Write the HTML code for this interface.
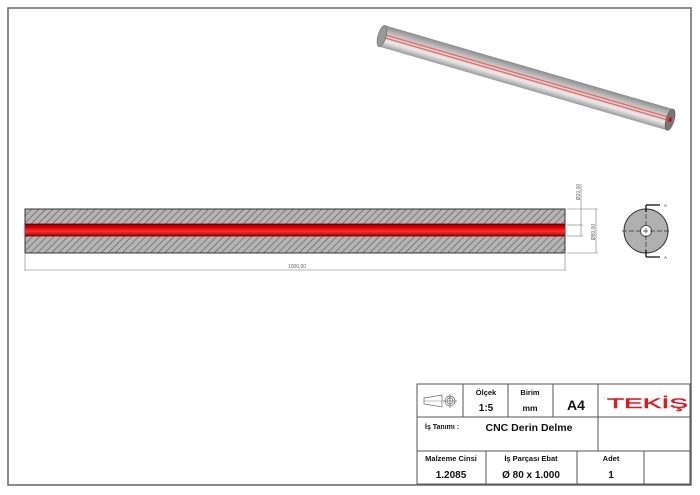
<!DOCTYPE html>
<html><head><meta charset="utf-8"><style>
html,body{margin:0;padding:0;background:#fff;}
svg{display:block;font-family:"Liberation Sans",sans-serif;}
</style></head><body>
<svg width="700" height="495" viewBox="0 0 700 495" xmlns="http://www.w3.org/2000/svg">
<defs>
<pattern id="h" width="5" height="5" patternUnits="userSpaceOnUse" patternTransform="rotate(45)">
<rect width="5" height="5" fill="#b4b4b4"/><line x1="0" y1="0" x2="0" y2="5" stroke="#555" stroke-width="1.2"/>
</pattern>
<linearGradient id="rod" x1="0" y1="0" x2="0" y2="1">
<stop offset="0" stop-color="#8c8c8c"/><stop offset="0.35" stop-color="#c8c8c8"/><stop offset="0.7" stop-color="#e8e8e8"/><stop offset="1" stop-color="#9a9a9a"/>
</linearGradient>
<linearGradient id="red" x1="0" y1="0" x2="0" y2="1">
<stop offset="0" stop-color="#8a0000"/><stop offset="0.3" stop-color="#e00000"/><stop offset="0.6" stop-color="#ff3030"/><stop offset="1" stop-color="#b00000"/>
</linearGradient>
</defs>
<rect x="8" y="8" width="683" height="477" fill="none" stroke="#666" stroke-width="1.5"/>

<!-- 3D rod -->
<g transform="translate(382,36) rotate(16.2)">
<rect x="0" y="-11" width="300" height="22" fill="url(#rod)"/>
<line x1="0" y1="-2" x2="300" y2="-2" stroke="#e66" stroke-width="1.3"/>
<line x1="0" y1="1" x2="300" y2="1" stroke="#e66" stroke-width="1.3"/>
<ellipse cx="0" cy="0" rx="4" ry="11" fill="#999" stroke="#666" stroke-width="0.6"/>
<ellipse cx="300" cy="0" rx="4" ry="11" fill="#777" stroke="#555" stroke-width="0.6"/>
<ellipse cx="300" cy="0" rx="1.6" ry="2.5" fill="#e00"/>
</g>

<!-- side section -->
<rect x="25" y="209" width="540" height="44" fill="url(#h)" stroke="#333" stroke-width="1"/>
<rect x="25" y="224" width="540" height="12" fill="url(#red)"/>
<line x1="25" y1="224" x2="565" y2="224" stroke="#400" stroke-width="0.8"/>
<line x1="25" y1="236" x2="565" y2="236" stroke="#400" stroke-width="0.8"/>
<!-- dims -->
<g stroke="#777" stroke-width="0.6" fill="none">
<line x1="25" y1="254" x2="25" y2="271"/><line x1="565" y1="254" x2="565" y2="271"/>
<line x1="25" y1="270" x2="565" y2="270"/>
<line x1="567" y1="225" x2="583" y2="225"/><line x1="567" y1="236" x2="583" y2="236"/>
<line x1="581" y1="184" x2="581" y2="236"/>
<line x1="567" y1="209" x2="598" y2="209"/><line x1="567" y1="253" x2="598" y2="253"/>
<line x1="596" y1="209" x2="596" y2="253"/>
</g>
<text x="297" y="268" font-size="5" fill="#666" text-anchor="middle">1000,00</text>
<text transform="translate(580,192) rotate(-90)" font-size="5" fill="#666" text-anchor="middle">Ø20,00</text>
<text transform="translate(595,232) rotate(-90)" font-size="5" fill="#666" text-anchor="middle">Ø80,00</text>

<!-- end view -->
<circle cx="646" cy="231" r="22" fill="#b0b0b0" stroke="#333" stroke-width="1"/>
<circle cx="646" cy="231" r="5.5" fill="#fff" stroke="#333" stroke-width="0.8"/>
<g stroke="#333" stroke-width="0.7" stroke-dasharray="5,2">
<line x1="622" y1="231" x2="670" y2="231"/><line x1="646" y1="207" x2="646" y2="255"/>
</g>
<g stroke="#000" stroke-width="1.2">
<line x1="646" y1="205" x2="646" y2="212"/><line x1="646" y1="205" x2="660" y2="205"/>
<line x1="646" y1="257" x2="646" y2="250"/><line x1="646" y1="257" x2="660" y2="257"/>
</g>
<text x="664" y="207" font-size="4.5" fill="#333">A</text>
<text x="664" y="259" font-size="4.5" fill="#333">A</text>

<!-- title block -->
<g stroke="#555" stroke-width="1" fill="none">
<rect x="417" y="384" width="273" height="100"/>
<line x1="417" y1="417" x2="690" y2="417"/><line x1="417" y1="451" x2="690" y2="451"/>
<line x1="463" y1="384" x2="463" y2="417"/><line x1="508" y1="384" x2="508" y2="417"/>
<line x1="553" y1="384" x2="553" y2="417"/><line x1="598" y1="384" x2="598" y2="451"/>
<line x1="486" y1="451" x2="486" y2="484"/><line x1="577" y1="451" x2="577" y2="484"/>
<line x1="644" y1="451" x2="644" y2="484"/>
</g>
<g stroke="#666" stroke-width="0.7" fill="none">
<path d="M424 398 L442 395 L442 407 L424 404 Z"/><line x1="424" y1="401" x2="442" y2="401" stroke-width="0.4"/>
<circle cx="450" cy="401" r="5"/><circle cx="450" cy="401" r="3"/>
<line x1="443" y1="401" x2="457" y2="401"/><line x1="450" y1="394" x2="450" y2="408"/>
</g>
<g font-weight="bold" fill="#111" text-anchor="middle">
<text x="486" y="395" font-size="7.5">Ölçek</text>
<text x="486" y="411" font-size="10">1:5</text>
<text x="530" y="395" font-size="7.5">Birim</text>
<text x="530" y="411" font-size="8.5">mm</text>
<text x="576" y="410" font-size="14">A4</text>
<text x="529" y="431" font-size="10.5">CNC Derin Delme</text>
<text x="451" y="461" font-size="7.5">Malzeme Cinsi</text>
<text x="451" y="478" font-size="10">1.2085</text>
<text x="531" y="461" font-size="7.5">İş Parçası Ebat</text>
<text x="531" y="478" font-size="10">Ø 80 x 1.000</text>
<text x="611" y="461" font-size="7.5">Adet</text>
<text x="611" y="478" font-size="10">1</text>
</g>
<text x="425" y="429" font-size="7" font-weight="bold" fill="#111">İş Tanımı  :</text>
<text x="607" y="408" font-size="14" fill="#e8141c" textLength="81" lengthAdjust="spacingAndGlyphs" stroke="#e8141c" stroke-width="0.4">TEKİŞ</text>
<text x="603" y="400" font-size="4" fill="#e8141c">"</text>
</svg>
</body></html>
